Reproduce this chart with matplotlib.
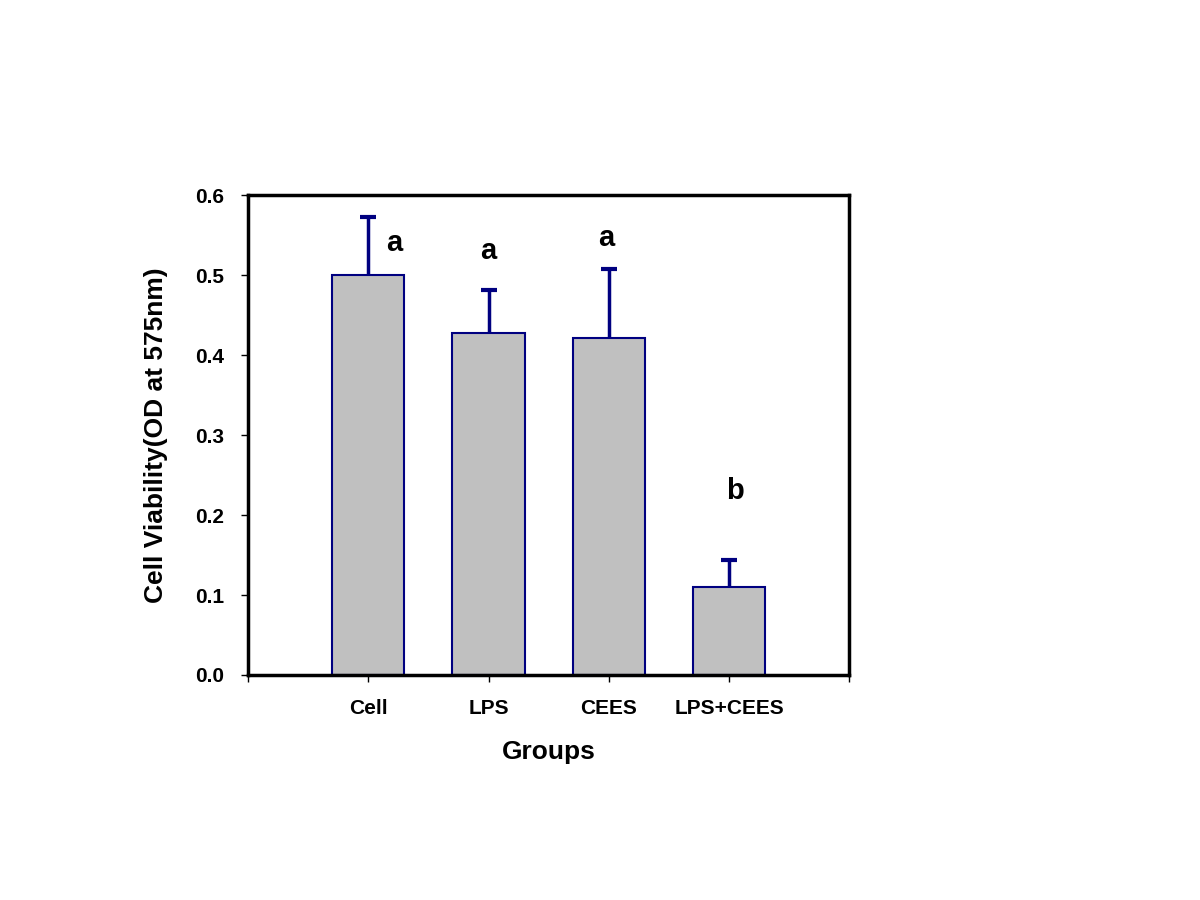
import numpy as np
import matplotlib.pyplot as plt

plt.rcParams['font.family'] = ['Liberation Sans', 'DejaVu Sans']
plt.rcParams['font.weight'] = 'bold'

groups = ['Cell', 'LPS', 'CEES', 'LPS+CEES']
means = [0.500, 0.427, 0.421, 0.110]
errors = [0.072, 0.054, 0.086, 0.034]
letters = ['a', 'a', 'a', 'b']
letter_y = [0.540, 0.530, 0.546, 0.230]
letter_dx = [0.22, 0.0, -0.02, 0.05]

navy = '#000080'

fig = plt.figure(figsize=(12, 9), dpi=100)
ax = fig.add_axes([0.2067, 0.25, 0.501, 0.5333])

x = np.arange(len(groups))
tops = np.array(means) + np.array(errors)
ax.bar(x, means, width=0.6, color='#c0c0c0', edgecolor=navy, linewidth=1.5, zorder=2)
# upper error only, cap on top
ax.vlines(x, means, tops, colors=navy, linewidth=2.5, zorder=3)
ax.plot(x, tops, linestyle='none', marker='_', markersize=11, markeredgewidth=3,
        color=navy, zorder=3)

for xi, dx, ly, t in zip(x, letter_dx, letter_y, letters):
    ax.text(xi + dx, ly, t, ha='center', va='center', fontsize=21, fontweight='bold')

ax.set_xlim(-1, 4)
ax.set_ylim(0, 0.6)
ax.set_xticks([-1, 0, 1, 2, 3, 4])
ax.set_xticklabels([''] + groups + [''])
ax.set_yticks(np.arange(0, 0.61, 0.1))
ax.set_yticklabels(['%.1f' % v for v in np.arange(0, 0.61, 0.1)])
ax.tick_params(axis='both', direction='out', length=5, width=1, labelsize=15)
ax.tick_params(axis='x', pad=12)
ax.tick_params(axis='y', pad=12)

for s in ax.spines.values():
    s.set_linewidth(2.5)

ax.set_xlabel('Groups', fontsize=19, fontweight='bold', labelpad=16)
ax.set_ylabel('Cell Viability(OD at 575nm)', fontsize=19, fontweight='bold', labelpad=20)

fig.savefig('out.png', dpi=100)
